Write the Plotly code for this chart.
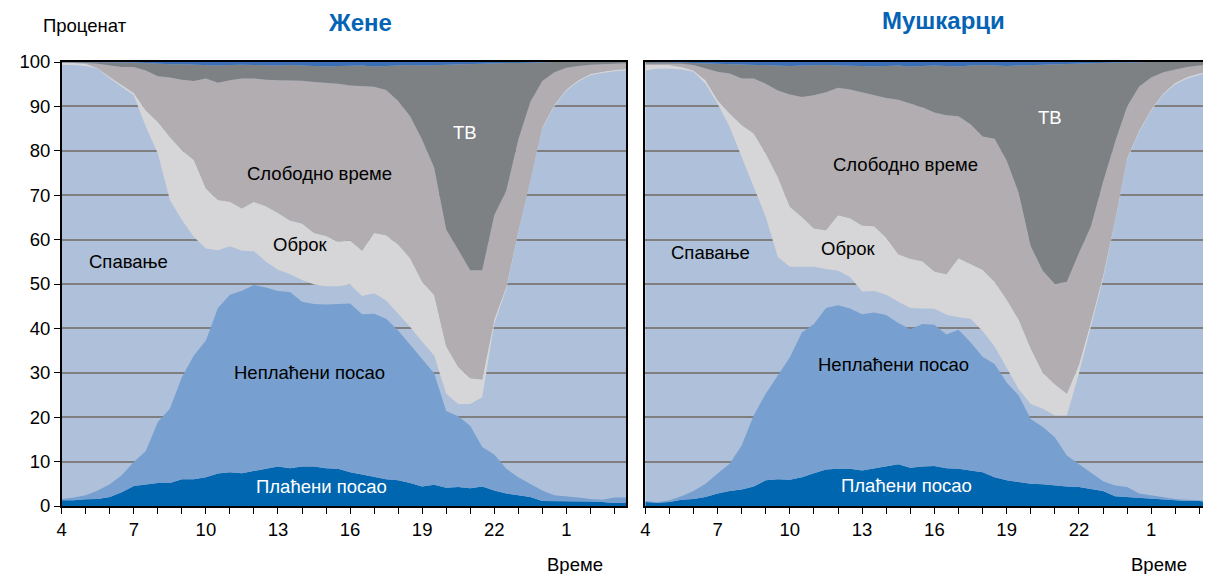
import plotly.graph_objects as go

# Half-hour time points from 04:00 to 03:30 next day (hours, 24+ = after midnight)
HOURS = [4, 4.5, 5, 5.5, 6, 6.5, 7, 7.5, 8, 8.5, 9, 9.5, 10, 10.5, 11, 11.5,
         12, 12.5, 13, 13.5, 14, 14.5, 15, 15.5, 16, 16.5, 17, 17.5, 18, 18.5,
         19, 19.5, 20, 20.5, 21, 21.5, 22, 22.5, 23, 23.5, 24, 24.5, 25, 25.5,
         26, 26.5, 27, 27.5]
TICK_VALS = [4, 5, 6, 7, 8, 9, 10, 11, 12, 13, 14, 15, 16, 17, 18, 19, 20, 21,
             22, 23, 24, 25, 26, 27]
TICK_TEXT = ["4", "", "", "7", "", "", "10", "", "", "13", "", "", "16", "", "",
             "19", "", "", "22", "", "", "1", "", ""]

# Cumulative upper edge of each band (percent)
# ---- Women (Жене)
W_PAID = [1.3, 1.3, 1.5, 1.6, 2.0, 3.1, 4.5, 4.9, 5.2, 5.2, 6.0, 6.0, 6.5, 7.3, 7.6, 7.4,
          7.9, 8.4, 8.9, 8.5, 8.9, 8.9, 8.5, 8.4, 7.6, 7.1, 6.5, 6.0, 5.8, 5.2, 4.4, 4.8,
          4.1, 4.3, 4.0, 4.4, 3.5, 2.8, 2.4, 2.0, 1.1, 1.1, 1.1, 1.0, 1.0, 0.9, 0.7, 0.8]
W_UNPAID = [1.6, 1.9, 2.4, 3.5, 4.9, 6.9, 9.9, 12.4, 18.9, 21.9, 29.0, 33.9, 37.3, 44.6, 47.6, 48.5,
            49.8, 49.2, 48.4, 48.2, 46.0, 45.5, 45.4, 45.5, 45.6, 43.2, 43.3, 42.2, 39.5, 36.3, 33.0, 29.9,
            21.4, 20.2, 18.1, 13.3, 11.6, 8.4, 6.5, 5.0, 3.5, 2.4, 2.2, 1.9, 1.6, 1.4, 1.9, 1.9]
W_SLEEP = [99.3, 99.3, 99.1, 98.5, 96.3, 94.4, 92.5, 85.4, 79.4, 68.9, 64.4, 60.6, 58.0, 57.6, 58.5, 57.5,
           57.4, 55.0, 53.2, 52.2, 50.9, 49.9, 49.5, 49.5, 49.9, 47.3, 47.9, 46.3, 43.3, 40.3, 37.0, 33.9,
           25.3, 23.0, 23.0, 24.5, 41.0, 48.8, 61.5, 73.0, 85.0, 90.0, 93.5, 95.6, 97.0, 97.5, 97.9, 98.1]
W_MEAL = [99.8, 99.8, 99.6, 98.6, 96.6, 94.8, 93.0, 89.1, 86.5, 83.1, 80.1, 77.9, 71.5, 68.9, 68.5, 67.0,
          68.5, 67.5, 66.0, 64.3, 63.6, 61.5, 60.8, 59.5, 59.8, 57.5, 61.5, 61.0, 58.9, 55.8, 50.5, 47.5,
          36.0, 31.3, 28.8, 28.5, 42.0, 49.4, 61.8, 73.3, 85.3, 90.3, 93.8, 95.9, 97.3, 97.8, 98.2, 98.4]
W_FREE = [99.9, 99.9, 99.8, 99.6, 99.3, 98.9, 98.9, 98.1, 96.8, 96.5, 96.0, 95.7, 96.3, 95.3, 95.9, 96.3,
          96.3, 96.0, 95.9, 95.8, 95.8, 95.5, 95.3, 95.1, 94.7, 94.6, 94.4, 93.7, 91.2, 87.8, 82.5, 76.2,
          62.3, 57.7, 53.1, 53.1, 65.5, 71.0, 82.5, 91.0, 95.7, 97.7, 98.7, 99.1, 99.4, 99.5, 99.6, 99.7]
W_TV = [100, 100, 100, 100, 100, 99.9, 99.9, 99.8, 99.6, 99.5, 99.5, 99.4, 99.3, 99.2, 99.3, 99.4,
        99.3, 99.2, 99.2, 99.3, 99.2, 99.0, 99.0, 99.1, 99.2, 99.2, 99.0, 99.1, 99.2, 99.3, 99.2, 99.3,
        99.4, 99.4, 99.5, 99.6, 99.7, 99.8, 99.8, 99.9, 99.9, 100, 100, 100, 100, 100, 100, 100]
W_TOTAL = [100] * len(HOURS)

# ---- Men (Мушкарци)
M_PAID = [0.9, 0.75, 0.9, 1.4, 1.6, 2.0, 2.8, 3.4, 3.7, 4.4, 5.8, 6.0, 5.9, 6.5, 7.4, 8.2,
          8.4, 8.4, 8.0, 8.5, 8.9, 9.4, 8.6, 8.9, 9.0, 8.5, 8.4, 8.0, 7.6, 6.5, 5.8, 5.4,
          5.0, 4.9, 4.6, 4.4, 4.3, 3.9, 3.4, 2.2, 2.0, 1.9, 1.6, 1.4, 1.3, 1.1, 1.1, 0.8]
M_UNPAID = [1.1, 0.9, 1.3, 2.2, 3.4, 5.0, 7.3, 9.5, 13.6, 20.4, 25.3, 29.4, 33.5, 39.1, 41.0, 44.6,
            45.2, 44.5, 43.2, 43.6, 43.0, 41.2, 39.8, 41.0, 40.8, 38.6, 39.7, 36.9, 33.6, 32.0, 27.8, 24.9,
            19.6, 17.8, 15.5, 11.4, 9.5, 7.6, 5.6, 4.6, 4.3, 2.8, 2.4, 2.0, 1.6, 1.4, 1.3, 1.0]
M_SLEEP = [98.1, 98.5, 98.5, 98.3, 97.8, 95.1, 90.6, 85.4, 78.6, 71.9, 65.1, 56.1, 53.9, 53.9, 53.9, 53.4,
           53.0, 51.6, 48.3, 48.4, 47.6, 46.0, 44.6, 44.5, 44.4, 43.1, 42.5, 42.2, 39.4, 35.9, 31.2, 26.3,
           23.0, 21.9, 20.4, 20.4, 29.8, 40.3, 51.0, 64.0, 78.0, 84.2, 89.0, 92.6, 95.0, 96.3, 97.1, 97.7]
M_MEAL = [99.3, 99.3, 99.3, 98.9, 98.1, 95.9, 91.4, 88.4, 85.8, 83.9, 79.4, 74.1, 67.4, 65.1, 62.5, 62.1,
          65.5, 64.8, 63.2, 63.0, 60.4, 56.7, 55.7, 55.1, 52.8, 52.2, 55.8, 54.5, 53.2, 50.5, 46.5, 42.0,
          35.5, 30.0, 27.4, 25.3, 31.8, 41.5, 51.8, 64.4, 78.3, 84.5, 89.3, 92.9, 95.3, 96.6, 97.4, 98.0]
M_FREE = [99.6, 99.6, 99.6, 99.6, 99.3, 98.5, 97.8, 97.4, 96.3, 96.3, 95.1, 93.6, 92.7, 92.1, 92.5, 93.2,
          94.2, 93.8, 93.2, 92.6, 91.9, 91.5, 90.6, 89.8, 88.6, 88.0, 87.8, 86.0, 83.2, 82.7, 77.8, 70.5,
          58.5, 53.0, 50.0, 50.5, 57.0, 63.0, 73.0, 82.0, 90.0, 94.5, 96.5, 97.7, 98.3, 98.9, 99.2, 99.4]
M_TV = [100, 100, 100, 99.9, 99.8, 99.7, 99.6, 99.5, 99.4, 99.3, 99.2, 99.2, 99.1, 99.2, 99.3, 99.3,
        99.2, 99.2, 99.1, 99.0, 99.1, 99.2, 99.0, 99.1, 99.2, 99.1, 99.0, 99.2, 99.3, 99.2, 99.1, 99.2,
        99.3, 99.4, 99.4, 99.5, 99.6, 99.7, 99.8, 99.9, 99.9, 100, 100, 100, 100, 100, 100, 100]
M_TOTAL = [100] * len(HOURS)

COLORS = {
    "paid": "#0066b0",
    "unpaid": "#77a0d0",
    "sleep": "rgba(0,0,0,0)",
    "meal": "#d6d5d7",
    "free": "#b1adb0",
    "tv": "#7e8184",
    "other": "#3a6fb6",
}
SLEEP_BG = "#aec0da"
FONT = "Liberation Sans, Arial, sans-serif"

fig = go.Figure()


def add_panel(tops, xa, ya):
    keys = ["paid", "unpaid", "sleep", "meal", "free", "tv", "other"]
    for k, (key, y) in enumerate(zip(keys, tops)):
        fig.add_trace(go.Scatter(
            x=HOURS, y=y, mode="lines", line=dict(width=0),
            fill="tozeroy" if k == 0 else "tonexty",
            fillcolor=COLORS[key], hoverinfo="skip", showlegend=False,
            xaxis=xa, yaxis=ya))


add_panel([W_PAID, W_UNPAID, W_SLEEP, W_MEAL, W_FREE, W_TV, W_TOTAL], "x", "y")
add_panel([M_PAID, M_UNPAID, M_SLEEP, M_MEAL, M_FREE, M_TV, M_TOTAL], "x2", "y2")

# The page body has an 8px margin, so the figure is laid out 8px smaller
OFF = 8
W, H = 1211 - OFF, 574 - OFF
L0, R0 = 57 - OFF, 625 - OFF
L1, R1 = 644 - OFF, 1211 - OFF
TOP, BOT = 62 - OFF, 506 - OFF

axis_common = dict(showline=True, linecolor="black", linewidth=1.5, mirror=True,
                   zeroline=False)
fig.update_layout(
    width=W, height=H,
    margin=dict(l=0, r=0, t=TOP, b=H - BOT),
    paper_bgcolor="white",
    plot_bgcolor=SLEEP_BG,
    font=dict(family=FONT, size=18.5, color="black"),
    xaxis=dict(domain=[L0 / W, R0 / W], range=[4, 27.5], tickmode="array",
               tickvals=TICK_VALS, ticktext=TICK_TEXT, ticks="outside", ticklen=6,
               tickcolor="black", tickwidth=1.2, showgrid=False, anchor="y",
               **axis_common),
    yaxis=dict(domain=[0, 1], range=[0, 100], dtick=10, ticks="outside", ticklen=6,
               tickcolor="black", showgrid=True, gridcolor="#7f7f7f", gridwidth=1.5,
               anchor="x", **axis_common),
    xaxis2=dict(domain=[L1 / W, R1 / W], range=[4, 27.4], tickmode="array",
                tickvals=TICK_VALS, ticktext=TICK_TEXT, ticks="outside", ticklen=6,
                tickcolor="black", tickwidth=1.2, showgrid=False, anchor="y2",
                **axis_common),
    yaxis2=dict(domain=[0, 1], range=[0, 100], dtick=10, ticks="", showticklabels=False,
                showgrid=True, gridcolor="#7f7f7f", gridwidth=1.5, anchor="x2",
                **axis_common),
)

ann = []


def lab(text, x, y, xref, yref, color="black", size=18.5, bold=False):
    ann.append(dict(text=f"<b>{text}</b>" if bold else text, x=x, y=y, xref=xref,
                    yref=yref, showarrow=False, xanchor="center", yanchor="middle",
                    font=dict(family=FONT, size=size, color=color)))


# in-chart labels, women
lab("Спавање", 6.77, 55.0, "x", "y")
lab("Оброк", 13.93, 58.8, "x", "y")
lab("Слободно време", 14.72, 75.0, "x", "y")
lab("ТВ", 20.8, 84.2, "x", "y", color="white")
lab("Неплаћени посао", 14.3, 30.0, "x", "y")
lab("Плаћени посао", 14.8, 4.3, "x", "y", color="white")
# in-chart labels, men
lab("Спавање", 6.69, 57.0, "x2", "y2")
lab("Оброк", 12.45, 57.9, "x2", "y2")
lab("Слободно време", 14.8, 77.0, "x2", "y2")
lab("ТВ", 20.8, 87.4, "x2", "y2", color="white")
lab("Неплаћени посао", 14.3, 31.8, "x2", "y2")
lab("Плаћени посао", 14.86, 4.7, "x2", "y2", color="white")


def px_x(p):
    return (p - OFF) / W


def px_y(p):
    return (BOT - (p - OFF)) / (BOT - TOP)


# titles and axis captions (positions given in reference pixels)
lab("Жене", px_x(357), px_y(23), "paper", "paper", color="#0563b5", size=24, bold=True)
lab("Мушкарци", px_x(944), px_y(21), "paper", "paper", color="#0563b5", size=24, bold=True)
lab("Проценат", px_x(80), px_y(25), "paper", "paper")
lab("Време", px_x(573), px_y(564), "paper", "paper")
lab("Време", px_x(1161), px_y(564), "paper", "paper")

fig.update_layout(annotations=ann)
fig.write_html("out.html")
